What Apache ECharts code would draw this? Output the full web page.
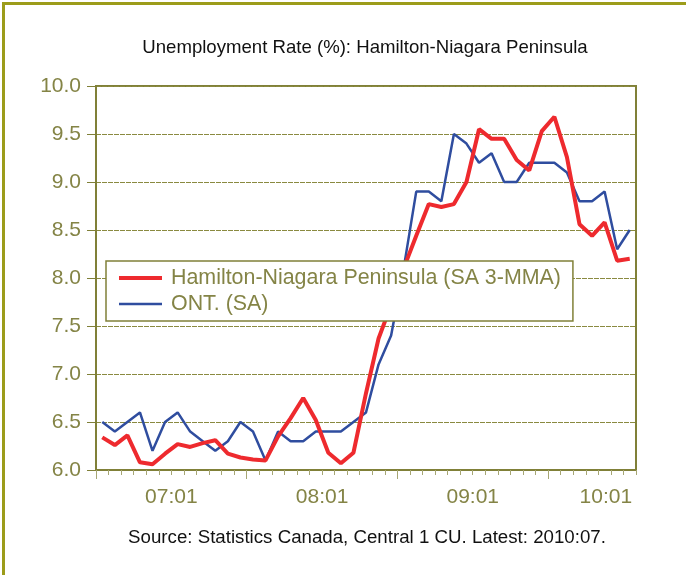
<!DOCTYPE html>
<html><head><meta charset="utf-8">
<script src="https://cdn.jsdelivr.net/npm/echarts@6/dist/echarts.min.js"></script>
<style>
html,body{margin:0;padding:0;background:#fff}
#wrap{position:relative;width:686px;height:575px}
#c{width:686px;height:575px}
#frame{position:absolute;left:2px;top:2px;right:0;bottom:0;border-left:3px solid #9c9c1a;border-top:3px solid #9c9c1a;pointer-events:none}
</style>
</head><body>
<div id="wrap"><div id="c"></div><div id="frame"></div></div>
<script>
const months = ['2007:01','2007:02','2007:03','2007:04','2007:05','2007:06','2007:07','2007:08','2007:09','2007:10','2007:11','2007:12',
  '2008:01','2008:02','2008:03','2008:04','2008:05','2008:06','2008:07','2008:08','2008:09','2008:10','2008:11','2008:12',
  '2009:01','2009:02','2009:03','2009:04','2009:05','2009:06','2009:07','2009:08','2009:09','2009:10','2009:11','2009:12',
  '2010:01','2010:02','2010:03','2010:04','2010:05','2010:06','2010:07'];
const hamilton = [6.34,6.26,6.36,6.08,6.06,6.17,6.27,6.24,6.28,6.31,6.17,6.13,
  6.11,6.10,6.35,6.54,6.75,6.52,6.18,6.07,6.18,6.80,7.37,7.72,
  8.10,8.44,8.77,8.74,8.77,9.00,9.55,9.45,9.45,9.23,9.12,9.53,
  9.68,9.26,8.56,8.44,8.58,8.18,8.20];
const ontario = [6.5,6.4,6.5,6.6,6.2,6.5,6.6,6.4,6.3,6.2,6.3,6.5,
  6.4,6.1,6.4,6.3,6.3,6.4,6.4,6.4,6.5,6.6,7.1,7.4,
  8.1,8.9,8.9,8.8,9.5,9.4,9.2,9.3,9.0,9.0,9.2,9.2,
  9.2,9.1,8.8,8.8,8.9,8.3,8.5];
const yearStarts = ['2007:01','2008:01','2009:01','2010:01'];
const xTickLabels = ['07:01','08:01','09:01','10:01'];
const yTicks = [6.0,6.5,7.0,7.5,8.0,8.5,9.0,9.5,10.0];
const seriesNames = ['Hamilton-Niagara Peninsula (SA 3-MMA)','ONT. (SA)'];
const titleText = 'Unemployment Rate (%): Hamilton-Niagara Peninsula';
const sourceText = 'Source: Statistics Canada, Central 1 CU. Latest: 2010:07.';

const n = months.length;
const OLIVE = '#808038';
const OLIVE_TXT = '#848446';
const FONT = '"Liberation Sans", Arial, sans-serif';
const RED = '#ee2a2e', BLUE = '#2f4d9f';
const RED_W = 4, BLUE_W = 2.5;

const minorTicks = [];
for (let i = 0; i <= n; i++) minorTicks.push(i - 0.5);
const startIdx = yearStarts.map(m => months.indexOf(m));
const majorTicks = startIdx.map(i => i - 0.5);
const labelPos = startIdx.map(i => Math.min(i + 5.5, n - 2.9));
const labelMap = {};
labelPos.forEach((p, k) => { labelMap[p.toFixed(2)] = xTickLabels[k]; });

const chart = echarts.init(document.getElementById('c'), null, {renderer: 'canvas'});
chart.setOption({
  animation: false,
  backgroundColor: '#fff',
  textStyle: {fontFamily: FONT},
  grid: {left: 96, top: 86, right: 50, bottom: 105, show: true, borderColor: OLIVE, borderWidth: 2, backgroundColor: 'transparent'},
  graphic: [
    {type: 'text', x: 365, y: 48, style: {text: titleText, fontSize: 18.6, fontFamily: FONT, fill: '#111', align: 'center', verticalAlign: 'middle'}},
    {type: 'text', x: 367, y: 538, style: {text: sourceText, fontSize: 18.7, fontFamily: FONT, fill: '#111', align: 'center', verticalAlign: 'middle'}}
  ],
  legend: {
    data: [
      {name: seriesNames[0], lineStyle: {width: RED_W, color: RED}},
      {name: seriesNames[1], lineStyle: {width: BLUE_W, color: BLUE}}
    ],
    orient: 'vertical', left: 106, top: 261,
    backgroundColor: '#fff', borderColor: OLIVE, borderWidth: 1.5,
    padding: [6, 12, 6, 11], itemGap: 4, itemWidth: 43, itemHeight: 14,
    selectedMode: false,
    itemStyle: {opacity: 0, color: 'transparent', borderWidth: 0},
    textStyle: {fontSize: 21.4, color: OLIVE_TXT, lineHeight: 22, fontFamily: FONT, padding: [0, 0, 0, 4]}
  },
  xAxis: [
    {
      type: 'value', min: -0.5, max: n - 0.5, position: 'bottom',
      axisLine: {show: true, onZero: false, lineStyle: {color: OLIVE, width: 2}},
      axisTick: {show: true, customValues: minorTicks, length: 5, lineStyle: {color: '#a6a674', width: 1}},
      axisLabel: {show: true, customValues: labelPos, margin: 17, fontSize: 21, color: OLIVE_TXT, fontFamily: FONT,
        formatter: v => labelMap[Number(v).toFixed(2)] || ''},
      splitLine: {show: false}
    },
    {
      type: 'value', min: -0.5, max: n - 0.5, position: 'bottom', gridIndex: 0,
      axisLine: {show: false, onZero: false},
      axisTick: {show: true, customValues: majorTicks, length: 9, lineStyle: {color: '#a6a674', width: 1}},
      axisLabel: {show: false},
      splitLine: {show: false}
    }
  ],
  yAxis: {
    type: 'value', min: yTicks[0], max: yTicks[yTicks.length - 1], interval: 0.5,
    axisLine: {show: true, onZero: false, lineStyle: {color: OLIVE, width: 2}},
    axisTick: {show: true, length: 9, lineStyle: {color: OLIVE, width: 1}},
    axisLabel: {formatter: v => v.toFixed(1), fontSize: 21, color: OLIVE_TXT, margin: 15, fontFamily: FONT},
    splitLine: {show: true, lineStyle: {color: '#8a8a40', width: 1, type: [5, 1]}}
  },
  series: [
    {
      name: seriesNames[1], type: 'line', symbol: 'none', z: 2,
      data: months.map((m, i) => [i, ontario[i]]),
      lineStyle: {color: BLUE, width: BLUE_W}, itemStyle: {color: BLUE}
    },
    {
      name: seriesNames[0], type: 'line', symbol: 'none', z: 3,
      data: months.map((m, i) => [i, hamilton[i]]),
      lineStyle: {color: RED, width: RED_W}, itemStyle: {color: RED}
    }
  ]
});
</script>
</body></html>
